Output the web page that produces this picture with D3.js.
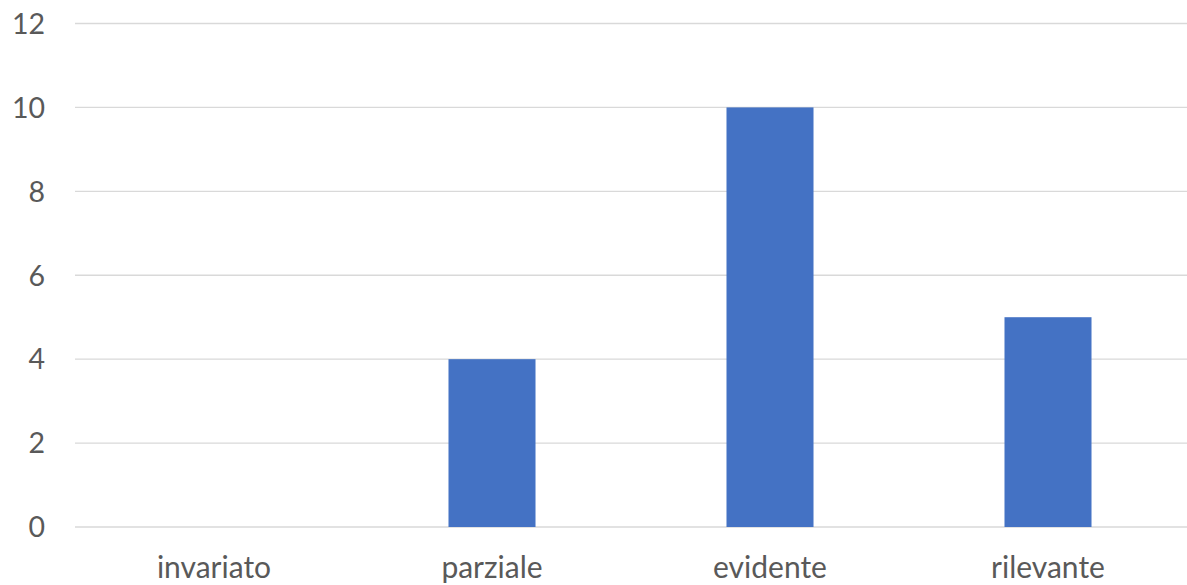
<!DOCTYPE html>
<html><head><meta charset="utf-8">
<script src="https://cdn.jsdelivr.net/npm/d3@7"></script>
<style>html,body{margin:0;padding:0;background:#fff;overflow:hidden}</style>
</head><body>
<svg id="c" width="1187" height="585"></svg>
<script>
const categories = ["invariato", "parziale", "evidente", "rilevante"];
const values = [0, 4, 10, 5];
const yTicks = [0, 2, 4, 6, 8, 10, 12];

const svg = d3.select("#c");
const font = "Lato, 'Open Sans', sans-serif";
const x = d3.scaleBand().domain(categories).range([75, 1187]).paddingInner(0.687).paddingOuter(0.3435);
const y = d3.scaleLinear().domain([0, 12]).range([527, 23.5]);

svg.append("g").selectAll("line").data(yTicks).join("line")
  .attr("x1", 75).attr("x2", 1187)
  .attr("y1", d => y(d)).attr("y2", d => y(d))
  .attr("stroke", "#d9d9d9").attr("stroke-width", 1.3);

svg.append("g").selectAll("text").data(yTicks).join("text")
  .attr("x", 45).attr("y", d => y(d)).attr("dy", "0.36em")
  .attr("text-anchor", "end").attr("fill", "#595959")
  .style("font-family", font).style("font-size", "28.5px")
  .text(d => d);

svg.append("g").selectAll("rect").data(values).join("rect")
  .attr("x", (d, i) => x(categories[i])).attr("width", x.bandwidth())
  .attr("y", d => y(d)).attr("height", d => y(0) - y(d))
  .attr("fill", "#4472c4");

svg.append("g").selectAll("text").data(categories).join("text")
  .attr("x", d => x(d) + x.bandwidth() / 2).attr("y", 578)
  .attr("text-anchor", "middle").attr("fill", "#595959")
  .style("font-family", font).style("font-size", "30px")
  .text(d => d);
</script>
</body></html>
